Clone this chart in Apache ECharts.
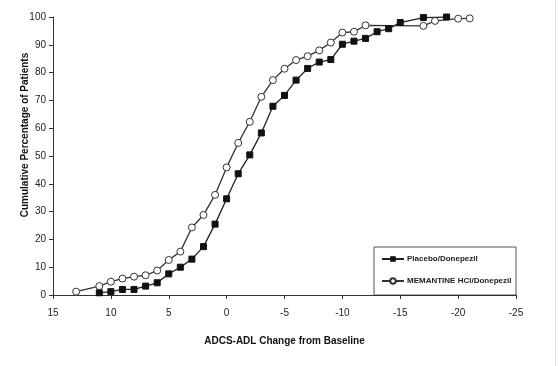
<!DOCTYPE html>
<html>
<head>
<meta charset="utf-8">
<script src="https://cdn.jsdelivr.net/npm/echarts@6/dist/echarts.min.js"></script>
<style>html,body{margin:0;padding:0;background:#fff;}#c{width:558px;height:366px;}</style>
</head>
<body>
<div id="c"></div>
<script>
const placeboX = [11,10,9,8,7,6,5,4,3,2,1,0,-1,-2,-3,-4,-5,-6,-7,-8,-9,-10,-11,-12,-13,-14,-15,-17,-19];
const placeboY = [0.8,1.2,2.0,2.0,3.2,4.4,7.6,10.0,12.9,17.4,25.5,34.6,43.6,50.4,58.3,67.9,71.8,77.3,81.5,83.8,84.7,90.2,91.3,92.3,94.7,95.8,98.0,99.8,100];
const memX = [13,11,10,9,8,7,6,5,4,3,2,1,0,-1,-2,-3,-4,-5,-6,-7,-8,-9,-10,-11,-12,-17,-18,-20,-21];
const memY = [1.2,3.2,4.8,5.9,6.6,7.1,8.8,12.6,15.6,24.3,28.8,36.0,45.9,54.7,62.3,71.3,77.3,81.4,84.5,85.9,88.0,90.8,94.4,94.7,97.0,96.8,98.6,99.4,99.5];
const seriesNames = ['Placebo/Donepezil','MEMANTINE HCl/Donepezil'];
const xTitle = 'ADCS-ADL Change from Baseline';
const yTitle = 'Cumulative Percentage of Patients';

const chart = echarts.init(document.getElementById('c'), null, {renderer:'canvas'});
const font = 'Arial, "Liberation Sans", sans-serif';
chart.setOption({
  animation: false,
  backgroundColor: '#fff',
  grid: {left: 53, right: 42, top: 17, bottom: 71},
  xAxis: {
    type: 'value', inverse: true, min: -25, max: 15, interval: 5,
    axisLine: {show: true, onZero: false, lineStyle: {color: '#333', width: 1}},
    axisTick: {show: true, length: 4, inside: false, lineStyle: {color: '#333'}},
    axisLabel: {color: '#222', fontSize: 10, fontFamily: font, margin: 13},
    splitLine: {show: false},
    name: xTitle, nameLocation: 'middle', nameGap: 41,
    nameTextStyle: {color: '#111', fontSize: 10, fontWeight: 'bold', fontFamily: font}
  },
  yAxis: {
    type: 'value', min: 0, max: 100, interval: 10, position: 'left',
    axisLine: {show: true, onZero: false, lineStyle: {color: '#333', width: 1}},
    axisTick: {show: true, length: 4, lineStyle: {color: '#333'}},
    axisLabel: {color: '#222', fontSize: 10, fontFamily: font, margin: 7},
    splitLine: {show: false}
  },
  legend: {
    orient: 'vertical', left: 376, top: 250, itemWidth: 22, itemHeight: 7, itemGap: 14,
    textStyle: {fontSize: 8, fontWeight: 'bold', color: '#222', fontFamily: font, padding: [0,0,0,-2]},
    data: seriesNames
  },
  graphic: [
    {type: 'rect', shape: {x: 374, y: 247, width: 142, height: 48}, style: {fill: 'none', stroke: '#555', lineWidth: 1}, z: 0},
    {type: 'text', x: 25, y: 135, rotation: Math.PI/2, style: {text: yTitle, fill: '#111', font: 'bold 10px Arial, "Liberation Sans", sans-serif', align: 'center', verticalAlign: 'middle'}},
    {type: 'line', shape: {x1: 555.5, y1: 0, x2: 555.5, y2: 366}, style: {stroke: '#e4e4e4', lineWidth: 1}}
  ],
  series: [
    {
      name: seriesNames[0], type: 'line',
      data: placeboX.map((x,i)=>[x, placeboY[i]]),
      symbol: 'rect', symbolSize: 6,
      lineStyle: {color: '#222', width: 1.3},
      itemStyle: {color: '#111', borderColor: '#111'}
    },
    {
      name: seriesNames[1], type: 'line',
      data: memX.map((x,i)=>[x, memY[i]]),
      symbol: 'circle', symbolSize: 7,
      lineStyle: {color: '#333', width: 1.3},
      itemStyle: {color: '#fff', borderColor: '#333', borderWidth: 1}
    }
  ]
});
</script>
</body>
</html>
